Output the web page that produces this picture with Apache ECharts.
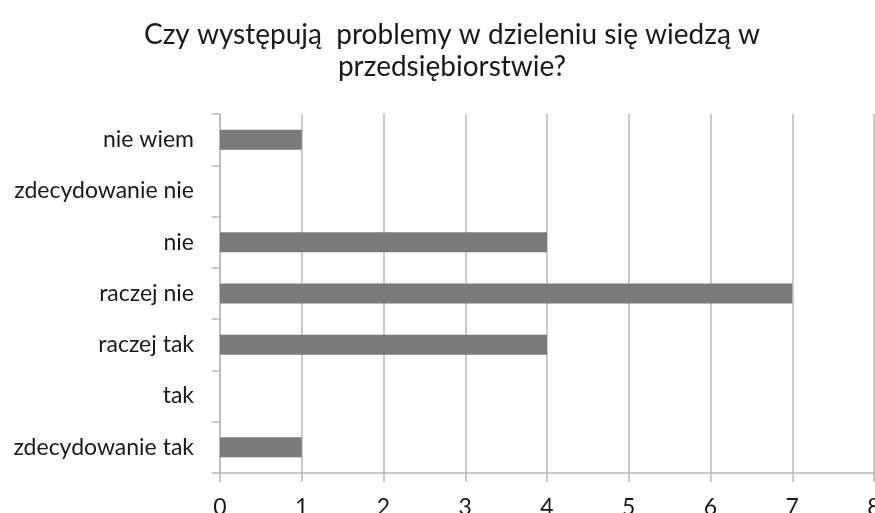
<!DOCTYPE html>
<html>
<head>
<meta charset="utf-8">
<script src="https://cdn.jsdelivr.net/npm/echarts@6/dist/echarts.min.js"></script>
<style>html,body{margin:0;padding:0;background:#fff;}#c{width:875px;height:513px;}</style>
</head>
<body>
<div id="c"></div>
<script>
const titleText = "Czy występują  problemy w dzieleniu się wiedzą w\nprzedsiębiorstwie?";
const categories = ["zdecydowanie tak", "tak", "raczej tak", "raczej nie", "nie", "zdecydowanie nie", "nie wiem"];
const values = [1, 0, 4, 7, 4, 0, 1];
const xTicks = [0, 8, 1];

const FONT = "Lato, 'Open Sans', sans-serif";
const chart = echarts.init(document.getElementById('c'));
chart.setOption({
  animation: false,
  backgroundColor: '#fff',
  title: {
    text: titleText,
    left: 447,
    top: 14,
    textAlign: 'center',
    textStyle: { fontFamily: FONT, fontSize: 28, fontWeight: 'normal', color: '#1a1a1a', lineHeight: 32 }
  },
  grid: { left: 220, right: 1, top: 114, bottom: 40, containLabel: false, outerBoundsMode: 'none' },
  xAxis: {
    type: 'value',
    min: xTicks[0], max: xTicks[1], interval: xTicks[2],
    axisLine: { show: true, lineStyle: { color: '#b8b8b8', width: 1.5 } },
    axisTick: { show: true, length: 9, lineStyle: { color: '#b8b8b8', width: 1.5 } },
    splitLine: { show: true, lineStyle: { color: '#b8b8b8', width: 1.5 } },
    axisLabel: { fontFamily: FONT, fontSize: 23, color: '#1a1a1a', margin: 23, showMaxLabel: true }
  },
  yAxis: {
    type: 'category',
    data: categories,
    axisLine: { show: true, lineStyle: { color: '#b8b8b8', width: 1.5 } },
    axisTick: { show: true, length: 8, lineStyle: { color: '#b8b8b8', width: 1.5 } },
    splitLine: { show: false },
    axisLabel: { fontFamily: FONT, fontSize: 23, color: '#1a1a1a', margin: 26 }
  },
  series: [{
    type: 'bar',
    data: values,
    barWidth: 20,
    itemStyle: { color: '#7a7a7a' }
  }]
});
</script>
</body>
</html>
